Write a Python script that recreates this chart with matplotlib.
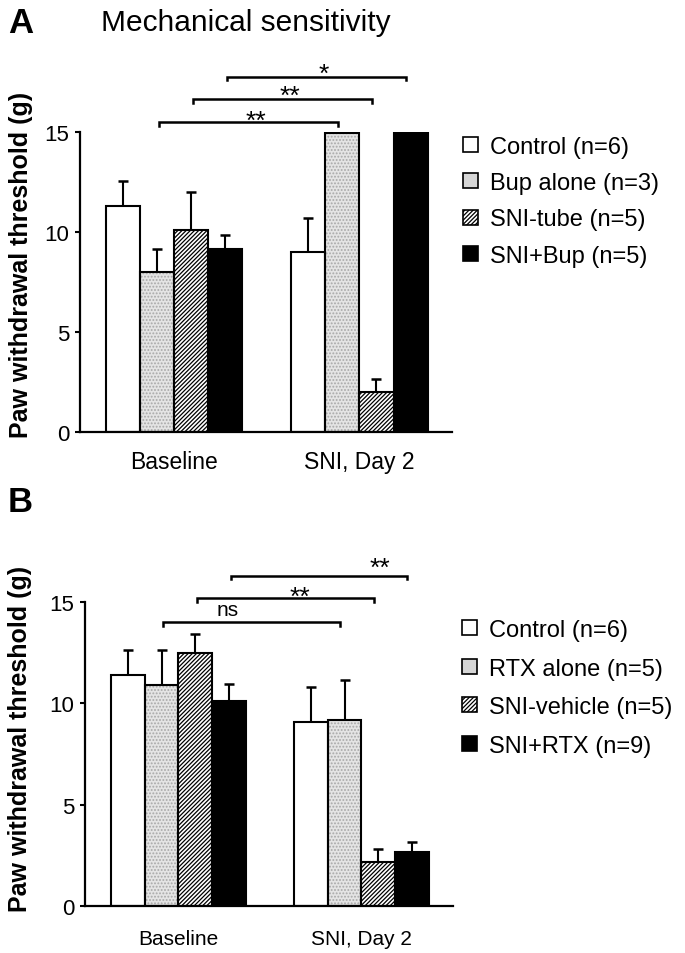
import numpy as np
import matplotlib.pyplot as plt
from matplotlib.patches import Patch

plt.rcParams['font.family'] = ['Liberation Sans', 'DejaVu Sans']
plt.rcParams['hatch.linewidth'] = 0.9

# ---- data ----
timepoints = ["Baseline", "SNI, Day 2"]

groups_a = ["Control (n=6)", "Bup alone (n=3)", "SNI-tube (n=5)", "SNI+Bup (n=5)"]
mean_a = [[11.3, 9.0], [8.0, 14.95], [10.1, 2.0], [9.15, 14.95]]
sem_a = [[1.25, 1.7], [1.15, 0.05], [1.9, 0.65], [0.7, 0.05]]
sig_a = [(1, "**"), (2, "**"), (3, "*")]

groups_b = ["Control (n=6)", "RTX alone (n=5)", "SNI-vehicle (n=5)", "SNI+RTX (n=9)"]
mean_b = [[11.4, 9.08], [10.9, 9.2], [12.5, 2.17], [10.1, 2.65]]
sem_b = [[1.25, 1.72], [1.75, 1.94], [0.95, 0.62], [0.85, 0.5]]
sig_b = [(1, "ns"), (2, "**"), (3, "**")]

# fill, hatch, hatch colour
styles = [("white", None, "black"),
          ("#e4e4e4", ".....", "#a8a8a8"),
          ("white", "////////", "black"),
          ("black", None, "black")]

W, H = 685, 954
fig = plt.figure(figsize=(W / 100, H / 100), dpi=100)
width = 0.184


def panel(ax, means, sems, labels, sig, bracket_y, text_y, text_dx, xfs, xpad, leg_xy, leg_sp):
    x = np.arange(len(timepoints))
    for i in range(4):
        pos = x + (i - 1.5) * width
        fc, hatch, hc = styles[i]
        ax.bar(pos, means[i], width, color=fc, hatch=hatch, edgecolor=hc, linewidth=0, zorder=2)
        ax.bar(pos, means[i], width, fill=False, edgecolor="black", linewidth=1.5, zorder=3)
        ax.errorbar(pos, means[i], yerr=[np.zeros(2), sems[i]], fmt="none", ecolor="black",
                    elinewidth=1.5, capsize=3.3, capthick=1.8, zorder=1)
    for k, (i, lab) in enumerate(sig):
        x1 = (i - 1.5) * width + 0.01
        x2 = 1 + (i - 1.5) * width - 0.025
        y = bracket_y[k]
        ax.plot([x1, x1, x2, x2], [y - 0.18, y, y, y - 0.18], color="black", lw=1.8,
                clip_on=False, solid_joinstyle="miter")
        ax.text((x1 + x2) / 2 + text_dx[k], text_y[k], lab, ha="center", va="baseline",
                fontsize=19 if lab != "ns" else 15, clip_on=False)
    ax.set_xlim(-0.51, 1.5)
    ax.set_ylim(0, 15)
    ax.set_yticks([0, 5, 10, 15])
    ax.set_xticks(x)
    ax.set_xticklabels(timepoints, fontsize=xfs)
    ax.tick_params(axis="x", length=0, pad=xpad)
    ax.tick_params(axis="y", direction="out", length=3.5, width=1.5, labelsize=16, pad=4)
    for s in ["top", "right"]:
        ax.spines[s].set_visible(False)
    for s in ["left", "bottom"]:
        ax.spines[s].set_linewidth(1.6)
    handles = [Patch(facecolor="white", edgecolor="black", lw=1.2),
               Patch(facecolor="#d6d6d6", edgecolor="black", lw=1.2),
               Patch(facecolor="white", edgecolor="black", hatch="////////", lw=1.2),
               Patch(facecolor="black", edgecolor="black", lw=1.2)]
    fig.legend(handles, labels, loc="upper left", bbox_to_anchor=leg_xy, frameon=False,
               fontsize=17, handlelength=0.65, handleheight=0.6, handletextpad=0.5,
               labelspacing=leg_sp, borderpad=0, borderaxespad=0)


ax_a = fig.add_axes([80 / W, 1 - 433 / H, (452 - 80) / W, 300 / H])
panel(ax_a, mean_a, sem_a, groups_a, sig_a, [15.49, 16.65, 17.77], [15.22, 16.45, 17.55],
      [0.04, 0.04, 0.04], 16.5, 13, (463 / W, 1 - 137 / H), 0.6)

ax_b = fig.add_axes([85 / W, 1 - 906.7 / H, (453 - 85) / W, 303.4 / H])
panel(ax_b, mean_b, sem_b, groups_b, sig_b, [14.01, 15.21, 16.31], [14.37, 14.92, 16.35],
      [-0.13, 0.08, 0.33], 15, 17, (462 / W, 1 - 620 / H), 0.7)

fig.text(8 / W, 1 - 33 / H, "A", fontsize=25, fontweight="bold", va="baseline")
fig.text(101 / W, 1 - 31 / H, "Mechanical sensitivity", fontsize=21.5, va="baseline")
fig.text(8 / W, 1 - 512 / H, "B", fontsize=25, fontweight="bold", va="baseline")
fig.text(21 / W, 1 - 265 / H, "Paw withdrawal threshold (g)", rotation=90, fontsize=18,
         fontweight="bold", ha="center", va="center")
fig.text(20 / W, 1 - 739 / H, "Paw withdrawal threshold (g)", rotation=90, fontsize=18,
         fontweight="bold", ha="center", va="center")

fig.savefig("out.png", dpi=100)
